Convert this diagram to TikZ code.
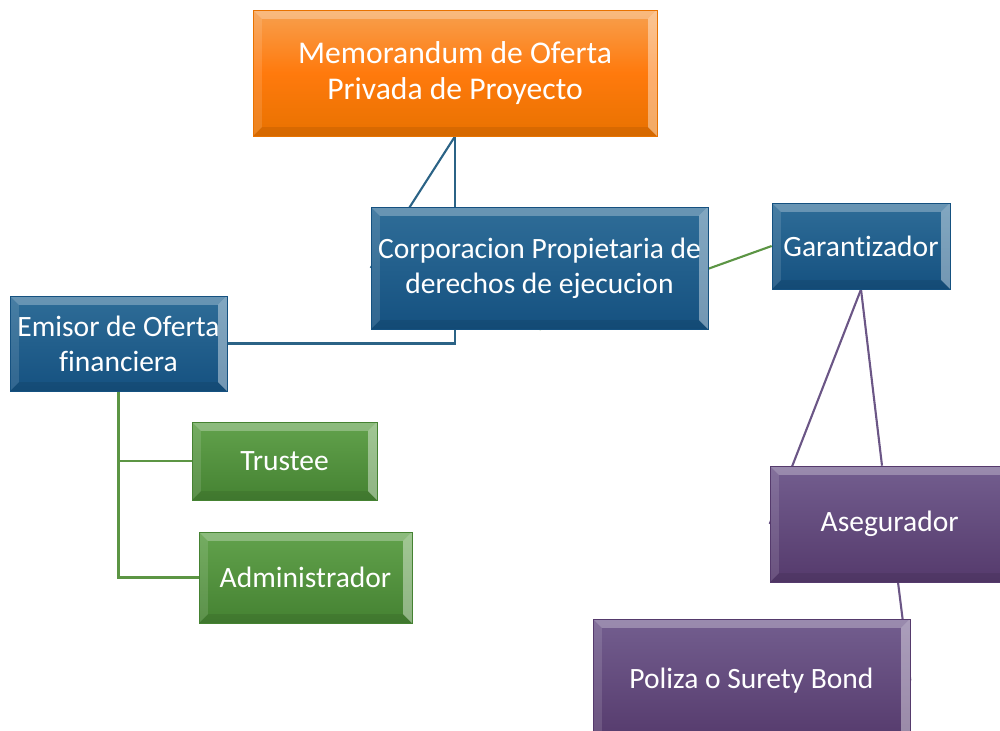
\documentclass[tikz,border=0pt]{standalone}
\usepackage{fontspec}
\setmainfont{Carlito}[Ligatures=NoCommon]
\usetikzlibrary{positioning,calc}
\pgfdeclarelayer{bg}
\pgfsetlayers{bg,main}

\definecolor{orangetop}{HTML}{F7A04F}
\definecolor{orangebot}{HTML}{E87200}
\definecolor{bluetop}{HTML}{2F6D98}
\definecolor{bluebot}{HTML}{155180}
\definecolor{greentop}{HTML}{62A24C}
\definecolor{greenbot}{HTML}{458232}
\definecolor{purpletop}{HTML}{735E8F}
\definecolor{purplebot}{HTML}{553A6C}
\definecolor{blueline}{HTML}{2B6386}
\definecolor{greenline}{HTML}{5C9544}
\definecolor{purpleline}{HTML}{6B5686}

\tikzset{
  bevel/.style={path picture={
    \path (path picture bounding box.north west) coordinate (pnw)
          (path picture bounding box.north east) coordinate (pne)
          (path picture bounding box.south east) coordinate (pse)
          (path picture bounding box.south west) coordinate (psw);
    \fill[white,opacity=.28] (pnw) -- (pne) -- ([xshift=-5pt,yshift=-5pt]pne) -- ([xshift=5pt,yshift=-5pt]pnw) -- cycle;
    \fill[white,opacity=.12] (pnw) -- ([xshift=5pt,yshift=-5pt]pnw) -- ([xshift=5pt,yshift=5pt]psw) -- (psw) -- cycle;
    \fill[white,opacity=.4] (pne) -- ([xshift=-5pt,yshift=-5pt]pne) -- ([xshift=-5pt,yshift=5pt]pse) -- (pse) -- cycle;
    \fill[black,opacity=.08] (psw) -- ([xshift=5pt,yshift=5pt]psw) -- ([xshift=-5pt,yshift=5pt]pse) -- (pse) -- cycle;
  }},
  box/.style={rectangle, text=white, align=center, inner sep=0pt,
    font=\fontsize{16.8}{20}\selectfont, bevel},
  memobox/.style={box, font=\fontsize{18}{20}\selectfont, top color=orangetop, bottom color=orangebot, middle color=orange!90!red!95!white, draw=orangebot},
  bluebox/.style={box, top color=bluetop, bottom color=bluebot, draw=bluebot},
  greenbox/.style={box, top color=greentop, bottom color=greenbot, draw=greenbot},
  purplebox/.style={box, top color=purpletop, bottom color=purplebot, draw=purplebot},
  link/.style={line width=1.2pt},
}

\begin{document}
\begin{tikzpicture}[x=0.02cm, y=-0.02cm]
    \useasboundingbox (0,0) rectangle (1000,730);
    \clip (0,0) rectangle (1000,730);

    % boxes
    \node[memobox, minimum width=8.08cm, minimum height=2.52cm] (memo) at (455,73) {Memorandum de Oferta\\Privada de Proyecto};
    \node[bluebox, minimum width=6.74cm, minimum height=2.44cm] (corp) at (539.5,268) {Corporacion Propietaria de\\derechos de ejecucion};
    \node[bluebox, minimum width=3.56cm, minimum height=1.72cm] (garant) at (861,246) {Garantizador};
    \node[bluebox, minimum width=4.34cm, minimum height=1.9cm] (emisor) at (118.5,343.5) {Emisor de Oferta\\financiera};
    \node[greenbox, minimum width=3.7cm, minimum height=1.56cm] (trustee) at (284.5,461) {Trustee};
    \node[greenbox, minimum width=4.26cm, minimum height=1.82cm] (admin) at (305.5,577.5) {Administrador};
    \node[purplebox, minimum width=5.12cm, minimum height=2.32cm] (aseg) at (898,524) {\hspace*{-9.5pt}Asegurador};
    \node[purplebox, minimum width=6.34cm, minimum height=2.46cm] (poliza) at (751.5,680.5) {Poliza o Surety Bond};

    % connectors behind the boxes
    \begin{pgfonlayer}{bg}
    \draw[link, blueline] (memo.south) |- (emisor.east);
    \draw[link, blueline] (memo.south) -- (corp.west);
    \draw[link, greenline] (garant.west) -- (corp.south);
    \draw[link, greenline] (emisor.south) |- (trustee.west);
    \draw[link, greenline] (emisor.south) |- (admin.west);
    \draw[link, purpleline] (garant.south) -- (aseg.west);
    \draw[link, purpleline] (garant.south) -- ([xshift=-0.32cm]aseg.north);
    \draw[link, purpleline] (aseg.south) -- (poliza.east);
    \end{pgfonlayer}
\end{tikzpicture}
\end{document}
